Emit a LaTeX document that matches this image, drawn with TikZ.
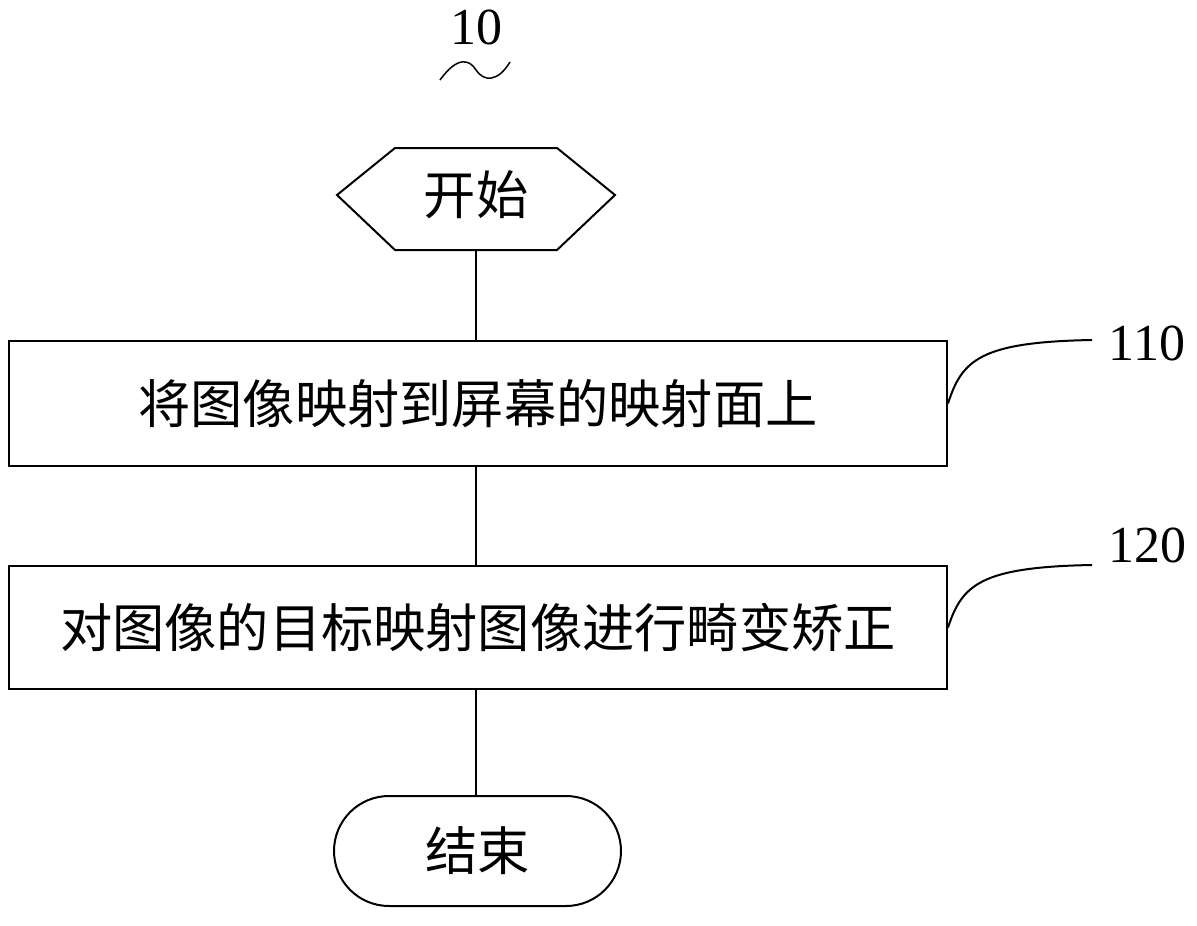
\documentclass[tikz,border=0pt]{standalone}
\usepackage{fontspec}
\setmainfont{Liberation Serif}
\newfontfamily\cjk{Noto Sans CJK SC}[Scale=0.95]
\begin{document}
\begin{tikzpicture}[x=1pt,y=-1pt,line width=2pt,
  lbl/.style={font=\cjk\fontsize{55}{60}\selectfont},
  num/.style={font=\fontsize{52}{56}\selectfont,inner sep=0pt},
  lead/.style={line width=2pt}]
\useasboundingbox (0,0) rectangle (1197,926);
\node[num] (n10) at (476,27) {10};
\draw[line width=1.5pt] (440,80) .. controls (458,55) and (470,60) .. (476,70) .. controls (484,82) and (498,82) .. (510,62);
\draw (337,195) -- (395,148) -- (557,148) -- (615,195) -- (557,250) -- (395,250) -- cycle;
\node[lbl] (start) at (476,195) {开始};
\coordinate (hexb) at (476,250);
\node[draw,minimum width=938pt,minimum height=125pt,anchor=north west] (b1) at (8,340) {};
\node[lbl] at (b1.center) {将图像映射到屏幕的映射面上};
\node[draw,minimum width=938pt,minimum height=123pt,anchor=north west] (b2) at (8,565) {};
\node[lbl] at (b2.center) {对图像的目标映射图像进行畸变矫正};
\node[draw,rounded corners=55pt,minimum width=287pt,minimum height=110pt,anchor=north west] (end) at (333,795) {};
\node[lbl] at (end.center) {结束};
\draw (hexb) -- (b1.north -| hexb);
\draw (b1.south -| hexb) -- (b2.north -| hexb);
\draw (b2.south -| hexb) -- (end.north -| hexb);
\node[num] (l110) at (1147,343) {110};
\node[num] (l120) at (1147,545) {120};
\coordinate (c1) at (1092,340);
\coordinate (c2) at (1092,565);
\draw[lead] (b1.east) .. controls (962,360) and (980,342) .. (c1);
\draw[lead] (b2.east) .. controls (962,585) and (980,567) .. (c2);
\end{tikzpicture}
\end{document}
